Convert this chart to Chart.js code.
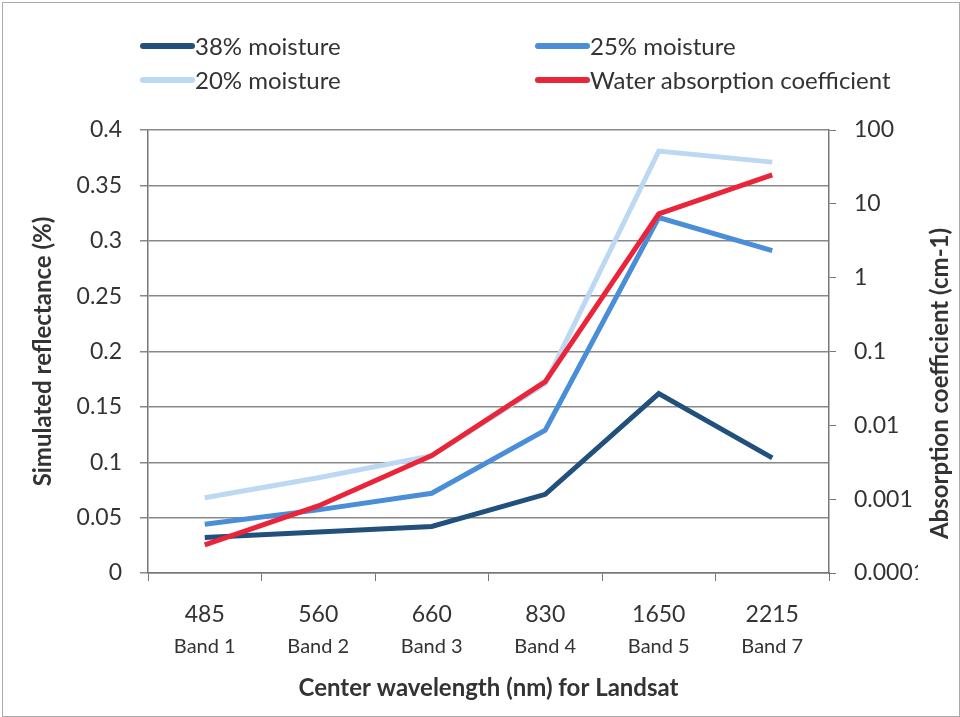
<!DOCTYPE html>
<html>
<head>
<meta charset="utf-8">
<script src="https://cdn.jsdelivr.net/npm/chart.js@4/dist/chart.umd.min.js"></script>
<style>
  html, body { margin: 0; padding: 0; background: #fff; }
  #wrap { position: relative; width: 960px; height: 717px; }
  #frame { position: absolute; left: 2px; top: 2px; right: 0; bottom: 0; border: 1px solid #aaa; pointer-events: none; }
  #legend { position: absolute; left: 140px; top: 31px; width: 800px; font-family: Lato, "Open Sans", sans-serif; font-size: 24px; color: #333; }
  .item { position: absolute; display: flex; align-items: center; white-space: nowrap; }
  .swatch { width: 55px; height: 6px; border-radius: 3px; }
  canvas { display: block; }
</style>
</head>
<body>
<div id="wrap">
  <canvas id="chart" width="960" height="717"></canvas>
  <div id="legend"></div>
  <div id="frame"></div>
</div>
<script>
const wavelengths = ['485', '560', '660', '830', '1650', '2215'];
const bands = ['Band 1', 'Band 2', 'Band 3', 'Band 4', 'Band 5', 'Band 7'];

const moisture38 = [0.032, 0.037, 0.042, 0.071, 0.162, 0.104];
const moisture25 = [0.044, 0.057, 0.072, 0.129, 0.321, 0.291];
const moisture20 = [0.068, 0.086, 0.106, 0.171, 0.381, 0.371];
const waterAbsorption = [0.00024, 0.00081, 0.0039, 0.039, 7.3, 24.6];

const seriesNames = ['38% moisture', '25% moisture', '20% moisture', 'Water absorption coefficient'];
const seriesColors = ['#22507c', '#4a8ed8', '#bdd8f3', '#ea2539'];

// legend in two columns, built as html
const legendPos = [[0, 0], [395, 0], [0, 34], [395, 34]];
const legendEl = document.getElementById('legend');
seriesNames.forEach((name, i) => {
    const div = document.createElement('div');
    div.className = 'item';
    div.style.left = legendPos[i][0] + 'px';
    div.style.top = legendPos[i][1] + 'px';
    div.innerHTML = '<span class="swatch" style="background:' + seriesColors[i] + '"></span>' + name;
    legendEl.appendChild(div);
});

const font = 'Lato, "Open Sans", sans-serif';

function line(label, data, color, axis) {
    return {
        label: label,
        data: data,
        borderColor: color,
        backgroundColor: color,
        borderWidth: 5,
        pointRadius: 0,
        tension: 0,
        yAxisID: axis
    };
}

// right axis title reads bottom-to-top like the left one
const rightTitle = {
    id: 'rightTitle',
    afterDraw(chart) {
        const c = chart.ctx;
        const area = chart.chartArea;
        c.save();
        c.translate(chart.width - 20, (area.top + area.bottom) / 2 + 32);
        c.rotate(-Math.PI / 2);
        c.font = 'bold 24px ' + font;
        c.fillStyle = '#333';
        c.textAlign = 'center';
        c.textBaseline = 'middle';
        c.fillText('Absorption coefficient (cm-1)', 0, 0);
        c.restore();
    }
};

const ctx = document.getElementById('chart').getContext('2d');
const myChart = new Chart(ctx, {
    type: 'line',
    data: {
        labels: wavelengths,
        datasets: [
            line(seriesNames[3], waterAbsorption, seriesColors[3], 'y2'),
            line(seriesNames[0], moisture38, seriesColors[0], 'y'),
            line(seriesNames[1], moisture25, seriesColors[1], 'y'),
            line(seriesNames[2], moisture20, seriesColors[2], 'y')
        ]
    },
    plugins: [rightTitle],
    options: {
        responsive: false,
        animation: false,
        layout: { padding: { top: 130, left: 25, right: 42, bottom: 10 } },
        plugins: {
            legend: { display: false },
            tooltip: { enabled: false }
        },
        scales: {
            x: {
                type: 'category',
                offset: true,
                afterFit: s => { s.height = 61; },
                grid: { display: true, drawOnChartArea: false, offset: true, color: '#777', tickLength: 8 },
                border: { color: '#777', width: 1.5 },
                ticks: { color: '#333', font: { family: font, size: 23 }, padding: 20 }
            },
            x2: {
                type: 'category',
                labels: bands,
                position: 'bottom',
                offset: true,
                afterFit: s => { s.height = 73; },
                grid: { display: false, drawTicks: false },
                border: { display: false },
                ticks: { color: '#333', font: { family: font, size: 20 }, padding: 1 },
                title: {
                    display: true,
                    text: 'Center wavelength (nm) for Landsat',
                    color: '#333',
                    font: { family: font, size: 24, weight: 'bold' },
                    padding: { top: 10, bottom: 4 }
                }
            },
            y: {
                position: 'left',
                min: 0,
                max: 0.4,
                afterFit: s => { s.width = 123; },
                ticks: {
                    stepSize: 0.05,
                    color: '#333',
                    font: { family: font, size: 23 },
                    padding: 18,
                    callback: v => String(+v.toFixed(2))
                },
                grid: { color: '#888', lineWidth: 1.5, tickLength: 8 },
                border: { color: '#777', width: 1.5 },
                title: {
                    display: true,
                    text: 'Simulated reflectance (%)',
                    color: '#333',
                    font: { family: font, size: 24, weight: 'bold' },
                    padding: { top: 4, bottom: 0 }
                }
            },
            y2: {
                type: 'logarithmic',
                position: 'right',
                min: 0.0001,
                max: 100,
                afterFit: s => { s.width = 89; },
                afterBuildTicks: scale => {
                    scale.ticks = [0.0001, 0.001, 0.01, 0.1, 1, 10, 100].map(v => ({ value: v }));
                },
                ticks: {
                    color: '#333',
                    font: { family: font, size: 23 },
                    padding: 18,
                    callback: v => String(v)
                },
                grid: { drawOnChartArea: false, color: '#777', tickLength: 7 },
                border: { color: '#777', width: 1.5 }
            }
        }
    }
});
</script>
</body>
</html>
